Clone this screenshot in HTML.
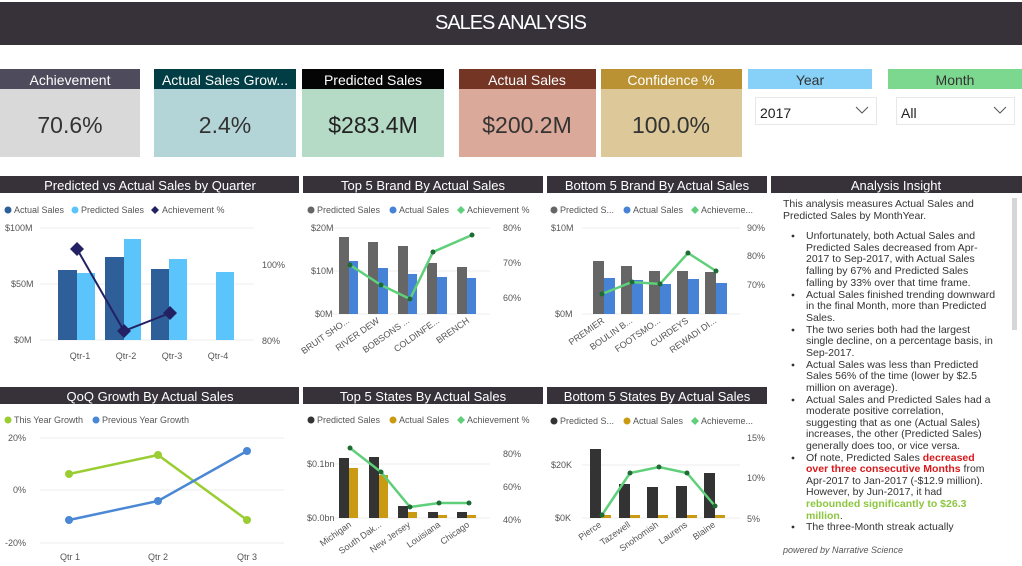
<!DOCTYPE html>
<html><head><meta charset="utf-8"><style>
body{margin:0;width:1022px;height:566px;overflow:hidden;background:#fff}
svg{display:block;font-family:"Liberation Sans",sans-serif}
</style></head><body>
<svg width="1022" height="566" viewBox="0 0 1022 566">
<rect x="0" y="2" width="1022" height="43" fill="#37323a"/>
<text x="511" y="29" fill="#fff" font-size="20" text-anchor="middle" textLength="152">SALES ANALYSIS</text>
<!-- cards -->
<g font-size="14" text-anchor="middle">
<rect x="0" y="69" width="140" height="20" fill="#4e4c5c"/><rect x="0" y="89" width="140" height="68" fill="#d9d9d9"/>
<text x="70" y="85" fill="#fff">Achievement</text><text x="70" y="133" font-size="23" fill="#333">70.6%</text>
<rect x="154" y="69" width="142" height="20" fill="#013d45"/><rect x="154" y="89" width="142" height="68" fill="#b3d5d8"/>
<text x="225" y="85" fill="#fff">Actual Sales Grow...</text><text x="225" y="133" font-size="23" fill="#333">2.4%</text>
<rect x="302" y="69" width="142" height="20" fill="#050505"/><rect x="302" y="89" width="142" height="68" fill="#b5dac6"/>
<text x="373" y="85" fill="#fff">Predicted Sales</text><text x="373" y="133" font-size="23" fill="#222">$283.4M</text>
<rect x="459" y="69" width="137" height="20" fill="#743525"/><rect x="459" y="89" width="137" height="68" fill="#dba999"/>
<text x="527" y="85" fill="#fff">Actual Sales</text><text x="527" y="133" font-size="23" fill="#333">$200.2M</text>
<rect x="601" y="69" width="141" height="20" fill="#bb9233"/><rect x="601" y="89" width="141" height="68" fill="#dcc898"/>
<text x="671" y="85" fill="#fff">Confidence %</text><text x="671" y="133" font-size="23" fill="#333">100.0%</text>
<rect x="748" y="69" width="124" height="20" fill="#87d1f9"/><text x="810" y="85" fill="#333">Year</text>
<rect x="888" y="69" width="134" height="20" fill="#7dd88f"/><text x="955" y="85" fill="#333">Month</text>
</g>
<rect x="755.5" y="97.5" width="121" height="27" fill="#fff" stroke="#e8e8e8"/>
<text x="760" y="118" font-size="14" fill="#222">2017</text>
<polyline points="856,107 862,113 868,107" fill="none" stroke="#555"/>
<rect x="896.5" y="97.5" width="118" height="27" fill="#fff" stroke="#e8e8e8"/>
<text x="901" y="118" font-size="14" fill="#222">All</text>
<polyline points="994,107 1000,113 1006,107" fill="none" stroke="#555"/>
<!-- title bars -->
<g fill="#37323a">
<rect x="0" y="176" width="299" height="17"/><rect x="303" y="176" width="240" height="17"/><rect x="547" y="176" width="220" height="17"/><rect x="771" y="176" width="251" height="17"/>
<rect x="0" y="387" width="299" height="17"/><rect x="303" y="387" width="240" height="17"/><rect x="547" y="387" width="220" height="17"/>
</g>
<g fill="#fff" font-size="13" text-anchor="middle">
<text x="150" y="190">Predicted vs Actual Sales by Quarter</text>
<text x="423" y="190">Top 5 Brand By Actual Sales</text>
<text x="657" y="190">Bottom 5 Brand By Actual Sales</text>
<text x="896" y="190">Analysis Insight</text>
<text x="150" y="401">QoQ Growth By Actual Sales</text>
<text x="423" y="401">Top 5 States By Actual Sales</text>
<text x="657" y="401">Bottom 5 States By Actual Sales</text>
</g>
<g font-size="9" fill="#555">
<!-- chart1 -->
<circle cx="8" cy="210" r="3.5" fill="#2f5f98"/><text x="14" y="213">Actual Sales</text>
<circle cx="75" cy="210" r="3.5" fill="#5bc4fb"/><text x="81" y="213">Predicted Sales</text>
<path d="M155 206 L159 210 155 214 151 210Z" fill="#232163"/><text x="162" y="213">Achievement %</text>
<line x1="40" y1="228" x2="254" y2="228" stroke="#eee"/><line x1="40" y1="284" x2="254" y2="284" stroke="#eee"/><line x1="40" y1="340" x2="254" y2="340" stroke="#eee"/>
<text x="5" y="231">$100M</text><text x="11" y="287">$50M</text><text x="14" y="343">$0M</text>
<text x="262" y="268">100%</text><text x="262" y="344">80%</text>
<g fill="#2f5f98"><rect x="58" y="270" width="19" height="70"/><rect x="105" y="257" width="19" height="83"/><rect x="151" y="269" width="18" height="71"/></g>
<g fill="#5bc4fb"><rect x="77" y="273" width="18" height="67"/><rect x="124" y="239" width="17" height="101"/><rect x="169" y="259" width="18" height="81"/><rect x="216" y="272" width="18" height="68"/></g>
<polyline points="77,249 124,331 170,313" fill="none" stroke="#232163" stroke-width="2"/>
<g fill="#232163"><path d="M77 242 L84 249 77 256 70 249Z"/><path d="M124 324 L131 331 124 338 117 331Z"/><path d="M170 306 L177 313 170 320 163 313Z"/></g>
<text x="80" y="359" text-anchor="middle">Qtr-1</text><text x="126" y="359" text-anchor="middle">Qtr-2</text><text x="172" y="359" text-anchor="middle">Qtr-3</text><text x="218" y="359" text-anchor="middle">Qtr-4</text>
<!-- chart2 -->
<circle cx="311" cy="210" r="3.5" fill="#666"/><text x="317" y="213">Predicted Sales</text>
<circle cx="393" cy="210" r="3.5" fill="#4683d6"/><text x="399" y="213">Actual Sales</text>
<path d="M461 206 L465 210 461 214 457 210Z" fill="#5fcf7a"/><text x="467" y="213">Achievement %</text>
<line x1="330" y1="228" x2="490" y2="228" stroke="#eee"/><line x1="330" y1="271" x2="490" y2="271" stroke="#eee"/><line x1="330" y1="314" x2="490" y2="314" stroke="#eee"/>
<text x="311" y="231">$20M</text><text x="311" y="274">$10M</text><text x="315" y="317">$0M</text>
<text x="503" y="231">80%</text><text x="503" y="266">70%</text><text x="503" y="301">60%</text>
<g fill="#666"><rect x="339" y="237" width="10" height="77"/><rect x="368" y="242" width="10" height="72"/><rect x="398" y="246" width="10" height="68"/><rect x="427" y="263" width="10" height="51"/><rect x="457" y="267" width="10" height="47"/></g>
<g fill="#4683d6"><rect x="349" y="261" width="9" height="53"/><rect x="378" y="268" width="10" height="46"/><rect x="408" y="274" width="9" height="40"/><rect x="437" y="277" width="10" height="37"/><rect x="467" y="278" width="9" height="36"/></g>
<polyline points="350,265 381,285 410,299 433,252 472,235" fill="none" stroke="#5fcf7a" stroke-width="2.5"/>
<g fill="#1e6b35"><circle cx="350" cy="265" r="2.5"/><circle cx="381" cy="285" r="2.5"/><circle cx="410" cy="299" r="2.5"/><circle cx="433" cy="252" r="2.5"/><circle cx="472" cy="235" r="2.5"/></g>
<g text-anchor="end"><text transform="translate(350,322) rotate(-35)">BRUIT SHO...</text><text transform="translate(380,322) rotate(-35)">RIVER DEW</text><text transform="translate(410,322) rotate(-35)">BOBSONS ...</text><text transform="translate(440,322) rotate(-35)">COLDINFE...</text><text transform="translate(470,322) rotate(-35)">BRENCH</text></g>
<!-- chart3 -->
<circle cx="554" cy="210" r="3.5" fill="#666"/><text x="560" y="213">Predicted S...</text>
<circle cx="627" cy="210" r="3.5" fill="#4683d6"/><text x="633" y="213">Actual Sales</text>
<path d="M695 206 L699 210 695 214 691 210Z" fill="#5fcf7a"/><text x="701" y="213">Achieveme...</text>
<line x1="582" y1="228" x2="740" y2="228" stroke="#eee"/><line x1="582" y1="314" x2="740" y2="314" stroke="#eee"/>
<text x="551" y="231">$10M</text><text x="555" y="317">$0M</text>
<text x="747" y="231">90%</text><text x="747" y="259">80%</text><text x="747" y="288">70%</text>
<g fill="#666"><rect x="593" y="261" width="11" height="53"/><rect x="621" y="266" width="11" height="48"/><rect x="649" y="271" width="11" height="43"/><rect x="677" y="271" width="11" height="43"/><rect x="705" y="272" width="11" height="42"/></g>
<g fill="#4683d6"><rect x="604" y="278" width="11" height="36"/><rect x="632" y="280" width="11" height="34"/><rect x="660" y="284" width="11" height="30"/><rect x="688" y="279" width="11" height="35"/><rect x="716" y="283" width="11" height="31"/></g>
<polyline points="602,294 632,282 660,284 688,253 716,271" fill="none" stroke="#5fcf7a" stroke-width="2.5"/>
<g fill="#1e6b35"><circle cx="602" cy="294" r="2.5"/><circle cx="632" cy="282" r="2.5"/><circle cx="660" cy="284" r="2.5"/><circle cx="688" cy="253" r="2.5"/><circle cx="716" cy="271" r="2.5"/></g>
<g text-anchor="end"><text transform="translate(605,322) rotate(-35)">PREMIER</text><text transform="translate(633,322) rotate(-35)">BOULIN B...</text><text transform="translate(661,322) rotate(-35)">FOOTSMO...</text><text transform="translate(689,322) rotate(-35)">CURDEYS</text><text transform="translate(717,322) rotate(-35)">REWADI DI...</text></g>
<!-- chart4 -->
<circle cx="8" cy="420" r="3.5" fill="#9acd32"/><text x="14" y="423">This Year Growth</text>
<circle cx="96" cy="420" r="3.5" fill="#4a87d4"/><text x="102" y="423">Previous Year Growth</text>
<line x1="40" y1="438" x2="284" y2="438" stroke="#eee"/><line x1="40" y1="490" x2="284" y2="490" stroke="#eee"/><line x1="40" y1="543" x2="284" y2="543" stroke="#eee"/>
<text x="8" y="441">20%</text><text x="13" y="493">0%</text><text x="5" y="546">-20%</text>
<polyline points="69,474 158,455 247,520" fill="none" stroke="#9acd32" stroke-width="2.5"/>
<polyline points="69,520 158,501 247,451" fill="none" stroke="#4a87d4" stroke-width="2.5"/>
<g fill="#9acd32"><circle cx="69" cy="474" r="4"/><circle cx="158" cy="455" r="4"/><circle cx="247" cy="520" r="4"/></g>
<g fill="#4a87d4"><circle cx="69" cy="520" r="4"/><circle cx="158" cy="501" r="4"/><circle cx="247" cy="451" r="4"/></g>
<text x="70" y="560" text-anchor="middle">Qtr 1</text><text x="158" y="560" text-anchor="middle">Qtr 2</text><text x="247" y="560" text-anchor="middle">Qtr 3</text>
<!-- chart5 -->
<circle cx="311" cy="420" r="3.5" fill="#333"/><text x="317" y="423">Predicted Sales</text>
<circle cx="393" cy="420" r="3.5" fill="#c99a12"/><text x="399" y="423">Actual Sales</text>
<path d="M461 416 L465 420 461 424 457 420Z" fill="#5fcf7a"/><text x="467" y="423">Achievement %</text>
<line x1="330" y1="464" x2="490" y2="464" stroke="#eee"/><line x1="330" y1="518" x2="490" y2="518" stroke="#eee"/>
<text x="307" y="467">$0.1bn</text><text x="307" y="521">$0.0bn</text>
<text x="503" y="457">80%</text><text x="503" y="490">60%</text><text x="503" y="523">40%</text>
<g fill="#333"><rect x="339" y="458" width="10" height="60"/><rect x="369" y="457" width="10" height="61"/><rect x="398" y="506" width="10" height="12"/><rect x="428" y="512" width="10" height="6"/><rect x="457" y="512" width="10" height="6"/></g>
<g fill="#c99a12"><rect x="349" y="468" width="9" height="50"/><rect x="379" y="475" width="9" height="43"/><rect x="408" y="512" width="9" height="6"/><rect x="438" y="515" width="9" height="3"/><rect x="467" y="515" width="9" height="3"/></g>
<polyline points="350,448 381,472 410,507 439,503 469,503" fill="none" stroke="#5fcf7a" stroke-width="2.5"/>
<g fill="#1e6b35"><circle cx="350" cy="448" r="2.5"/><circle cx="381" cy="472" r="2.5"/><circle cx="410" cy="507" r="2.5"/><circle cx="439" cy="503" r="2.5"/><circle cx="469" cy="503" r="2.5"/></g>
<g text-anchor="end"><text transform="translate(352,526) rotate(-35)">Michigan</text><text transform="translate(382,526) rotate(-35)">South Dak...</text><text transform="translate(411,526) rotate(-35)">New Jersey</text><text transform="translate(441,526) rotate(-35)">Louisiana</text><text transform="translate(470,526) rotate(-35)">Chicago</text></g>
<!-- chart6 -->
<circle cx="554" cy="421" r="3.5" fill="#333"/><text x="560" y="424">Predicted S...</text>
<circle cx="627" cy="421" r="3.5" fill="#c99a12"/><text x="633" y="424">Actual Sales</text>
<path d="M695 417 L699 421 695 425 691 421Z" fill="#5fcf7a"/><text x="701" y="424">Achieveme...</text>
<line x1="582" y1="465" x2="740" y2="465" stroke="#eee"/><line x1="582" y1="518" x2="740" y2="518" stroke="#eee"/>
<text x="551" y="468">$20K</text><text x="555" y="521">$0K</text>
<text x="747" y="441">15%</text><text x="747" y="481">10%</text><text x="747" y="522">5%</text>
<g fill="#333"><rect x="590" y="449" width="11" height="69"/><rect x="619" y="484" width="11" height="34"/><rect x="647" y="487" width="11" height="31"/><rect x="676" y="486" width="11" height="32"/><rect x="704" y="473" width="11" height="45"/></g>
<g fill="#c99a12"><rect x="601" y="515" width="10" height="3"/><rect x="630" y="515" width="10" height="3"/><rect x="658" y="515" width="10" height="3"/><rect x="687" y="515" width="10" height="3"/><rect x="715" y="515" width="10" height="3"/></g>
<polyline points="602,515 630,473 659,467 687,473 715,506" fill="none" stroke="#5fcf7a" stroke-width="2.5"/>
<g fill="#1e6b35"><circle cx="602" cy="515" r="2.5"/><circle cx="630" cy="473" r="2.5"/><circle cx="659" cy="467" r="2.5"/><circle cx="687" cy="473" r="2.5"/><circle cx="715" cy="506" r="2.5"/></g>
<g text-anchor="end"><text transform="translate(602,526) rotate(-35)">Pierce</text><text transform="translate(631,526) rotate(-35)">Tazewell</text><text transform="translate(659,526) rotate(-35)">Snohomish</text><text transform="translate(688,526) rotate(-35)">Laurens</text><text transform="translate(716,526) rotate(-35)">Blaine</text></g>
</g>
<!-- insight -->
<rect x="1012" y="198" width="5" height="132" fill="#d6d6d6"/>
<g font-size="10.5" fill="#333">
<text x="783" y="207">This analysis measures Actual Sales and</text>
<text x="783" y="219">Predicted Sales by MonthYear.</text>
<g fill="#333"><circle cx="793" cy="236" r="1.4"/><circle cx="793" cy="295" r="1.4"/><circle cx="793" cy="330" r="1.4"/><circle cx="793" cy="365" r="1.4"/><circle cx="793" cy="400" r="1.4"/><circle cx="793" cy="458" r="1.4"/><circle cx="793" cy="527" r="1.4"/></g>
<text x="806" y="239">Unfortunately, both Actual Sales and</text>
<text x="806" y="251">Predicted Sales decreased from Apr-</text>
<text x="806" y="262">2017 to Sep-2017, with Actual Sales</text>
<text x="806" y="274">falling by 67% and Predicted Sales</text>
<text x="806" y="286">falling by 33% over that time frame.</text>
<text x="806" y="298">Actual Sales finished trending downward</text>
<text x="806" y="309">in the final Month, more than Predicted</text>
<text x="806" y="321">Sales.</text>
<text x="806" y="333">The two series both had the largest</text>
<text x="806" y="344">single decline, on a percentage basis, in</text>
<text x="806" y="356">Sep-2017.</text>
<text x="806" y="368">Actual Sales was less than Predicted</text>
<text x="806" y="379">Sales 56% of the time (lower by $2.5</text>
<text x="806" y="391">million on average).</text>
<text x="806" y="403">Actual Sales and Predicted Sales had a</text>
<text x="806" y="414">moderate positive correlation,</text>
<text x="806" y="426">suggesting that as one (Actual Sales)</text>
<text x="806" y="437">increases, the other (Predicted Sales)</text>
<text x="806" y="449">generally does too, or vice versa.</text>
<text x="806" y="461">Of note, Predicted Sales <tspan fill="#d7191c" font-weight="bold">decreased</tspan></text>
<text x="806" y="472" fill="#d7191c" font-weight="bold">over three consecutive Months <tspan fill="#333" font-weight="normal">from</tspan></text>
<text x="806" y="484">Apr-2017 to Jan-2017 (-$12.9 million).</text>
<text x="806" y="495">However, by Jun-2017, it had</text>
<text x="806" y="507" fill="#8cc63f" font-weight="bold">rebounded significantly to $26.3</text>
<text x="806" y="519" fill="#8cc63f" font-weight="bold">million<tspan fill="#333" font-weight="normal">.</tspan></text>
<text x="806" y="530">The three-Month streak actually</text>
</g>
<rect x="775" y="535" width="247" height="31" fill="#fff"/>
<text x="783" y="553" font-size="9" font-style="italic" fill="#555">powered by Narrative Science</text>
</svg>
</body></html>
